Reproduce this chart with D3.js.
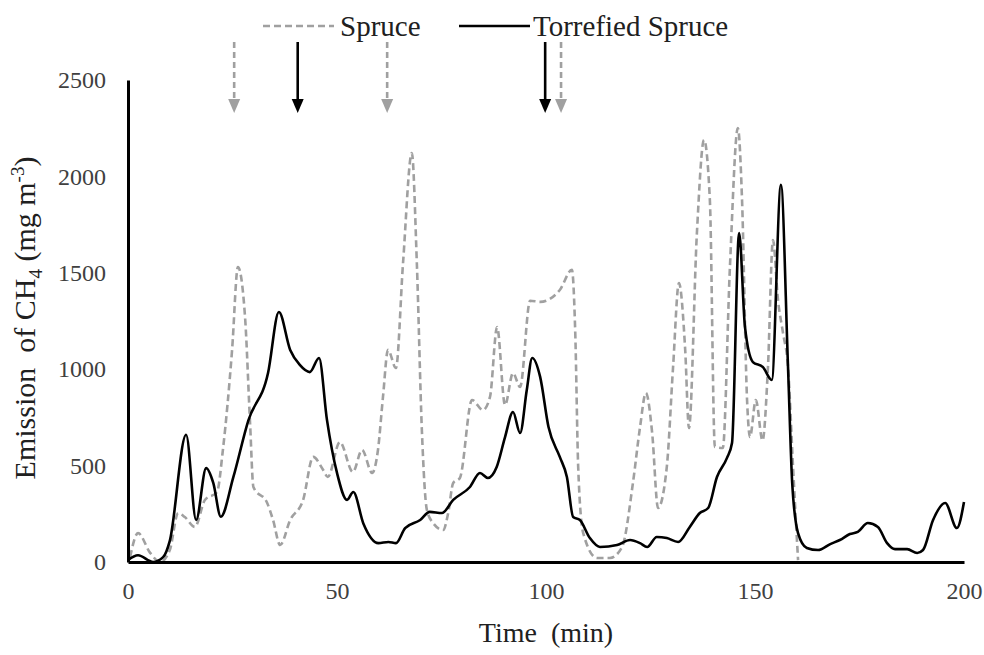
<!DOCTYPE html>
<html>
<head>
<meta charset="utf-8">
<script src="https://cdn.jsdelivr.net/npm/d3@7"></script>
<style>
  body { margin: 0; background: #fff; }
  text { font-family: "Liberation Serif", "Times New Roman", serif; }
</style>
</head>
<body>
<div id="chart"></div>
<script>
// time (min) and CH4 emission (mg m-3)
var spruceTime = [0.5, 2.4, 5.3, 7.7, 10, 12, 13.6, 16, 18.4, 21.3, 22.7, 24.9, 26.3, 28, 29.2, 30, 33.3, 34.7, 36.4, 38.8, 41.9,
  44.3, 46.7, 47.8, 50.7, 53.8, 56, 58.4, 59.8, 61, 62.2, 64.1, 65.8, 67.9, 69.1, 70.3, 71.5, 73, 75.4, 76.6, 77.8, 79.4,
  82.3, 84.9, 86.6, 88.3, 90.2, 92.1, 93.8, 96.2, 98.6, 103.3, 106.2, 107, 107.7, 108.9, 112.2, 115.3, 118.2, 120.8,
  122.5, 123.9, 125.4, 126.8, 128.9, 130.4, 131.8, 133.3, 134.2, 136.1, 137.8, 139.2, 140.4, 142.3, 144, 145.9, 146.9,
  148.1, 148.8, 150.2, 151.8, 153.1, 154.3, 155.5, 156.7, 157.9, 159.1, 160.3];
var spruceValue = [26, 150, 47, 0, 62, 254, 233, 182, 322, 363, 581, 1100, 1530, 1271, 721, 389, 306, 218, 88, 218, 322,
  545, 477, 441, 622, 467, 581, 462, 581, 856, 1100, 1006, 1551, 2121, 1551, 685, 270, 202, 166, 254, 410, 436,
  840, 788, 856, 1219, 814, 980, 908, 1355, 1349, 1411, 1515, 1188, 493, 150, 21, 21, 78, 410,
  700, 877, 669, 280, 493, 1011, 1447, 1100, 695, 1706, 2189, 1878, 597, 591, 1530, 2251, 1878,
  840, 648, 840, 630, 1011, 1670, 1359, 1188, 1011, 493, 10];

var torrTime = [0, 2.4, 6, 8.4, 10, 13.9, 16.3, 18.7, 20.4, 22.2, 25.2, 28.8, 33.5, 36.1, 38.8, 41.1, 43.5, 45.7, 47.6, 50,
  52.4, 53.9, 56.3, 59.9, 62.3, 64.1, 66.3, 69.9, 72.2, 75.1, 77.8, 81.8, 84.2, 86.1, 88.2, 90.2, 92.1, 93.8, 95.4, 96.7,
  98.6, 100.6, 103.3, 105, 106.5, 108.1, 110.5, 112.9, 117, 120.1, 122.5, 124.2, 126.5, 128.9, 131.6, 134.4, 136.8,
  138.8, 140.9, 143.3, 144.5, 146.2, 147.6, 149.5, 151.9, 154, 156.2, 157.9, 158.9, 160.3, 162.4, 165.1, 168, 170.3,
  172.7, 174.6, 177, 179.4, 181.6, 183.5, 186.4, 188.8, 190.2, 192.6, 195.5, 198.3, 200];
var torrValue = [10, 35, 0, 25, 110, 660, 218, 487, 410, 235, 440, 735, 980, 1297, 1100, 1022, 985, 1058, 737, 462,
  322, 363, 200, 98, 104, 98, 176, 218, 260, 254, 322, 389, 462, 436, 493, 648, 778, 669, 892, 1058,
  960, 700, 545, 441, 233, 218, 124, 78, 88, 114, 98, 78, 130, 124, 104, 182, 254,
  280, 441, 540, 617, 1706, 1219, 1037, 1011, 944, 1956, 1011, 410, 150, 73, 62, 93, 114,
  145, 156, 202, 182, 98, 67, 67, 47, 62, 218, 306, 176, 311];

// arrows marking events above the plot
var spruceArrows = [25.4, 62, 103.6];
var torrArrows = [40.6, 99.8];

var xTicks = [0, 50, 100, 150, 200];
var yTicks = [0, 500, 1000, 1500, 2000, 2500];

var width = 984, height = 655;
var grey = "#a0a0a0";

var svg = d3.select("#chart").append("svg")
  .attr("width", width)
  .attr("height", height);

var x = d3.scaleLinear().domain([0, 200]).range([128, 964]);
var y = d3.scaleLinear().domain([0, 2500]).range([562, 80]);

var line = d3.line()
  .x(d => x(d[0]))
  .y(d => y(d[1]))
  .curve(d3.curveMonotoneX);

var spruce = d3.zip(spruceTime, spruceValue);
var torr = d3.zip(torrTime, torrValue);

svg.append("path")
  .datum(spruce)
  .attr("fill", "none")
  .attr("stroke", grey)
  .attr("stroke-width", 2.6)
  .attr("stroke-dasharray", "7,4")
  .attr("d", line);

svg.append("path")
  .datum(torr)
  .attr("fill", "none")
  .attr("stroke", "#000")
  .attr("stroke-width", 2.6)
  .attr("d", line);

// axes
var xAxis = svg.append("g")
  .attr("transform", `translate(0,${y(0)})`)
  .call(d3.axisBottom(x).tickValues(xTicks).tickFormat(d3.format("d")).tickSize(0).tickPadding(20));

var yAxis = svg.append("g")
  .attr("transform", `translate(${x(0)},0)`)
  .call(d3.axisLeft(y).tickValues(yTicks).tickFormat(d3.format("d")).tickSize(0).tickPadding(22));

[xAxis, yAxis].forEach(function(g) {
  g.select(".domain").attr("stroke", "#000").attr("stroke-width", 3);
  g.selectAll("text")
    .attr("font-family", "Liberation Serif")
    .attr("font-size", 24)
    .attr("fill", "#404040");
});

svg.append("text")
  .attr("x", 546)
  .attr("y", 642)
  .attr("text-anchor", "middle")
  .attr("font-size", 28)
  .attr("fill", "#202020")
  .attr("xml:space", "preserve")
  .text("Time  (min)");

var yTitle = svg.append("text")
  .attr("transform", "translate(35,318) rotate(-90)")
  .attr("text-anchor", "middle")
  .attr("font-size", 30)
  .attr("fill", "#202020")
  .attr("xml:space", "preserve");
yTitle.append("tspan").text("Emission  of CH");
yTitle.append("tspan").attr("font-size", 19).attr("dy", 7).text("4");
yTitle.append("tspan").attr("dy", -7).text(" (mg m");
yTitle.append("tspan").attr("font-size", 19).attr("dy", -11).text("-3");
yTitle.append("tspan").attr("dy", 11).text(")");

// legend
var legend = svg.append("g");
legend.append("line")
  .attr("x1", 263).attr("x2", 334).attr("y1", 26).attr("y2", 26)
  .attr("stroke", grey).attr("stroke-width", 2.6).attr("stroke-dasharray", "7,4");
legend.append("text")
  .attr("x", 340).attr("y", 36)
  .attr("font-size", 29).attr("fill", "#202020")
  .text("Spruce");
legend.append("line")
  .attr("x1", 459).attr("x2", 530).attr("y1", 26).attr("y2", 26)
  .attr("stroke", "#000").attr("stroke-width", 2.6);
legend.append("text")
  .attr("x", 533).attr("y", 36)
  .attr("font-size", 29).attr("fill", "#202020")
  .text("Torrefied Spruce");

// arrows
function arrows(data, color, dashed) {
  var g = svg.append("g");
  g.selectAll("line")
    .data(data)
    .enter().append("line")
      .attr("x1", d => x(d)).attr("x2", d => x(d))
      .attr("y1", 42).attr("y2", 102)
      .attr("stroke", color)
      .attr("stroke-width", 2.6)
      .attr("stroke-dasharray", dashed ? "6,4" : null);
  g.selectAll("path")
    .data(data)
    .enter().append("path")
      .attr("d", d => `M${x(d) - 6},99 L${x(d) + 6},99 L${x(d)},113 Z`)
      .attr("fill", color);
}
arrows(spruceArrows, grey, true);
arrows(torrArrows, "#000", false);
</script>
</body>
</html>
